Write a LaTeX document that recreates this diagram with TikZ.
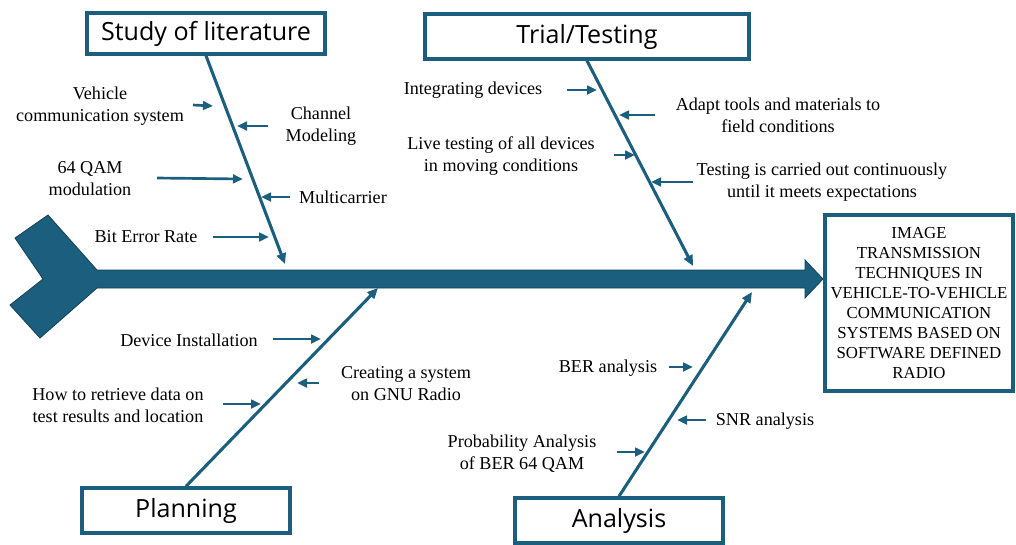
\documentclass[tikz,border=0pt]{standalone}
\usepackage{fontspec}
\setmainfont{Liberation Serif}
\newfontfamily\titlefont{Open Sans}
\usetikzlibrary{arrows.meta}
\definecolor{fb}{HTML}{1B5E7E}
\begin{document}
\begin{tikzpicture}[x=0.75pt,y=-0.75pt,
  catbox/.style={draw=fb, line width=2.6pt, inner sep=0pt, font=\titlefont\fontsize{18.8}{22}\selectfont},
  resbox/.style={draw=fb, line width=2.6pt, inner sep=0pt, align=center, font=\fontsize{12.6}{15.1}\selectfont},
  lbl/.style={align=center, inner sep=0pt, font=\fontsize{13.6}{16.5}\selectfont},
  bone/.style={draw=fb, line width=2.3pt, -{Triangle[length=8pt,width=7pt]}},
  sub/.style={draw=fb, line width=2pt, -{Triangle[length=7.5pt,width=6.5pt]}}
]
\useasboundingbox (0,0) rectangle (1016,544);
\fill[white] (0,0) rectangle (1016,544);

% spine
\filldraw[fill=fb, draw=fb!70!black, line width=0.6pt]
  (48,215) -- (97,270) -- (805,270) -- (805,260) -- (823,279) -- (805,298) -- (805,288)
  -- (97,288) -- (40,338) -- (10,305) -- (43,279) -- (15,238) -- cycle;

% category boxes
\node[catbox, minimum width=178.5pt, minimum height=30.75pt] (study) at (206,33.5) {Study of literature};
\node[catbox, minimum width=243pt, minimum height=33.75pt] (trial) at (587,36.5) {Trial/Testing};
\node[catbox, minimum width=156pt, minimum height=33.75pt] (plan) at (186,510.5) {Planning};
\node[catbox, minimum width=156pt, minimum height=33.75pt] (ana) at (619,520.5) {Analysis};
\node[resbox, minimum width=141pt, minimum height=132pt] (res) at (919,303)
  {IMAGE\\TRANSMISSION\\TECHNIQUES IN\\VEHICLE-TO-VEHICLE\\COMMUNICATION\\SYSTEMS BASED ON\\SOFTWARE DEFINED\\RADIO};

% bone tips
\coordinate (ts) at (285,264);
\coordinate (tt) at (693,266);
\coordinate (tp) at (378,288);
\coordinate (ta) at (752,292);
\draw[bone] (study.south) -- (ts);
\draw[bone] (trial.south) -- (tt);
\draw[bone] (plan.north) -- (tp);
\draw[bone] (ana.north) -- (ta);

% labels
\node[lbl] (lA) at (100,106.5) {Vehicle\\communication system};
\node[lbl] (lB) at (321,126.5) {Channel\\Modeling};
\node[lbl] (lC) at (90,178.5) {64 QAM\\modulation};
\node[lbl] (lD) at (343,197) {Multicarrier};
\node[lbl] (lE) at (146,237) {Bit Error Rate};

\node[lbl] (mA) at (473,90) {Integrating devices};
\node[lbl] (mB) at (778,115) {Adapt tools and materials to\\field conditions};
\node[lbl] (mC) at (501,156.5) {Live testing of all devices\\in moving conditions};
\node[lbl] (mD) at (822,182.5) {Testing is carried out continuously\\until it meets expectations};

\node[lbl] (pA) at (189,340) {Device Installation};
\node[lbl] (pB) at (406,383.5) {Creating a system\\on GNU Radio};
\node[lbl] (pC) at (118,405) {How to retrieve data on\\test results and location};

\node[lbl] (nA) at (608,368) {BER analysis};
\node[lbl] (nB) at (765,421) {SNR analysis};
\node[lbl] (nC) at (522,453.5) {Probability Analysis\\of BER 64 QAM};

% sub arrows
\coordinate (a1s) at (193,105); \coordinate (a1e) at (213,106);
\coordinate (a2s) at (268,126); \coordinate (a2e) at (237,126);
\coordinate (a3s) at (157,178); \coordinate (a3e) at (243,179);
\coordinate (a4s) at (290,197); \coordinate (a4e) at (261,197);
\coordinate (a5s) at (213,237); \coordinate (a5e) at (269,237);
\coordinate (b1s) at (567,90);  \coordinate (b1e) at (597,90);
\coordinate (b2s) at (655,115); \coordinate (b2e) at (619,115);
\coordinate (b3s) at (614,155); \coordinate (b3e) at (635,155);
\coordinate (b4s) at (693,182); \coordinate (b4e) at (651,182);
\coordinate (c1s) at (273,339); \coordinate (c1e) at (321,339);
\coordinate (c2s) at (319,383); \coordinate (c2e) at (297,383);
\coordinate (c3s) at (223,404); \coordinate (c3e) at (261,404);
\coordinate (d1s) at (669,367); \coordinate (d1e) at (693,367);
\coordinate (d2s) at (706,420); \coordinate (d2e) at (677,420);
\coordinate (d3s) at (617,452); \coordinate (d3e) at (645,452);
\foreach \p in {a1,a2,a3,a4,a5,b1,b2,b3,b4,c1,c2,c3,d1,d2,d3}
  \draw[sub] (\p s) -- (\p e);
\end{tikzpicture}
\end{document}
